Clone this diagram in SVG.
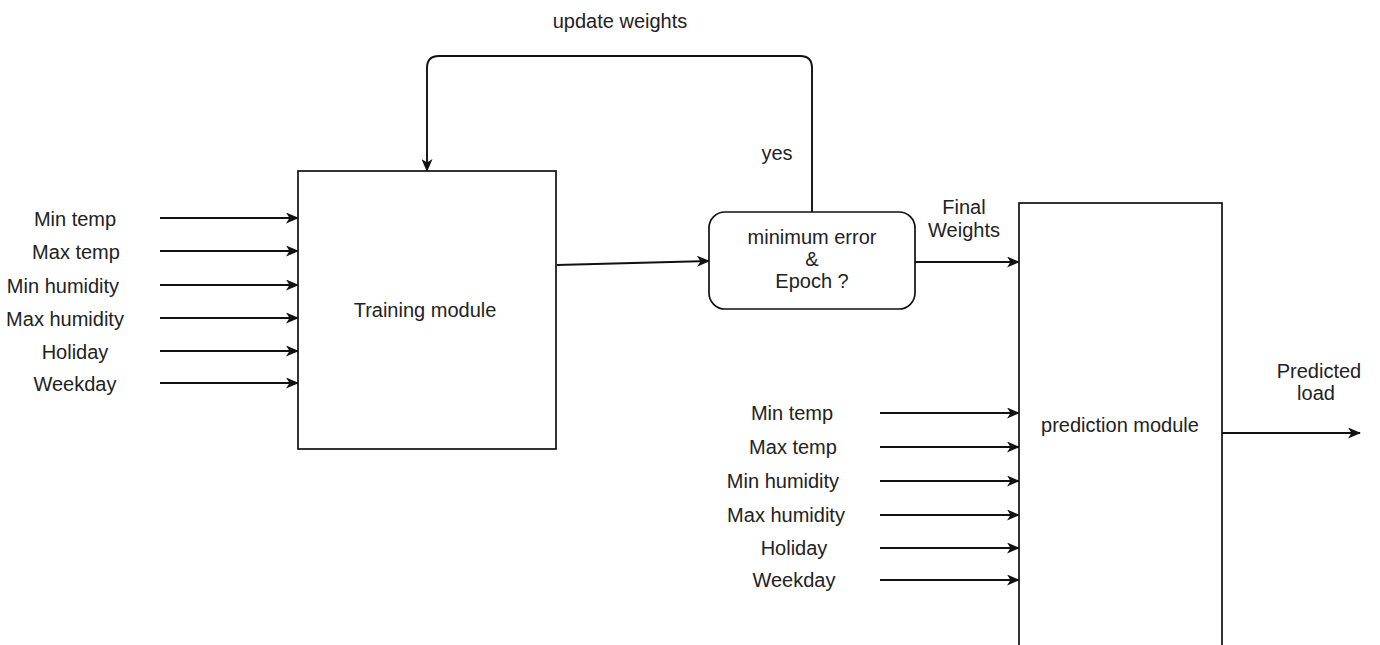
<svg xmlns="http://www.w3.org/2000/svg" width="1380" height="645" viewBox="0 0 1380 645">
<defs>
<style>
text{font-family:"Liberation Sans",Arial,sans-serif;font-size:20px;fill:#222;text-anchor:middle}
.box{fill:#fff;stroke:#111;stroke-width:1.7}
.ln{fill:none;stroke:#111;stroke-width:1.9;marker-end:url(#ah)}
</style>
<marker id="ah" viewBox="0 0 13 11" refX="12" refY="5.5" markerWidth="13" markerHeight="11" orient="auto" markerUnits="userSpaceOnUse">
<path d="M0,0 L13,5.5 L0,11 L3.5,5.5 z" fill="#111"/>
</marker>
</defs>
<rect width="1380" height="645" fill="#fff"/>
<g id="connectors">
<line class="ln" x1="160" y1="218" x2="298" y2="218"/>
<line class="ln" x1="160" y1="251" x2="298" y2="251"/>
<line class="ln" x1="160" y1="285" x2="298" y2="285"/>
<line class="ln" x1="160" y1="318" x2="298" y2="318"/>
<line class="ln" x1="160" y1="351" x2="298" y2="351"/>
<line class="ln" x1="160" y1="383" x2="298" y2="383"/>
<line class="ln" x1="880" y1="413" x2="1019" y2="413"/>
<line class="ln" x1="880" y1="447" x2="1019" y2="447"/>
<line class="ln" x1="880" y1="481" x2="1019" y2="481"/>
<line class="ln" x1="880" y1="515" x2="1019" y2="515"/>
<line class="ln" x1="880" y1="548" x2="1019" y2="548"/>
<line class="ln" x1="880" y1="580" x2="1019" y2="580"/>
<line class="ln" x1="557" y1="265" x2="709" y2="261"/>
<line class="ln" x1="915" y1="262" x2="1019" y2="262"/>
<line class="ln" x1="1222" y1="433" x2="1360" y2="433"/>
<path class="ln" d="M812,212 V68 Q812,56 800,56 H439 Q427,56 427,68 V171"/>
<text x="620" y="28">update weights</text>
<text x="777" y="160">yes</text>
<text x="964" y="214">Final</text>
<text x="964" y="237">Weights</text>
<text x="1319" y="378">Predicted</text>
<text x="1316" y="400">load</text>
</g>
<g id="inputs-left">
<text x="75" y="226">Min temp</text>
<text x="76" y="259">Max temp</text>
<text x="63" y="293">Min humidity</text>
<text x="65" y="326">Max humidity</text>
<text x="75" y="359">Holiday</text>
<text x="75" y="391">Weekday</text>
</g>
<g id="inputs-right">
<text x="792" y="420">Min temp</text>
<text x="793" y="454">Max temp</text>
<text x="783" y="488">Min humidity</text>
<text x="786" y="522">Max humidity</text>
<text x="794" y="555">Holiday</text>
<text x="794" y="587">Weekday</text>
</g>
<g id="training">
<rect class="box" x="298" y="171" width="258" height="278"/>
<text x="425" y="317">Training module</text>
</g>
<g id="decision">
<rect class="box" x="709" y="212" width="206" height="97" rx="16"/>
<text x="812" y="244">minimum error</text>
<text x="812" y="266">&amp;</text>
<text x="812" y="288">Epoch ?</text>
</g>
<g id="prediction">
<rect class="box" x="1019" y="203" width="203" height="460"/>
<text x="1120" y="432">prediction module</text>
</g>
</svg>
